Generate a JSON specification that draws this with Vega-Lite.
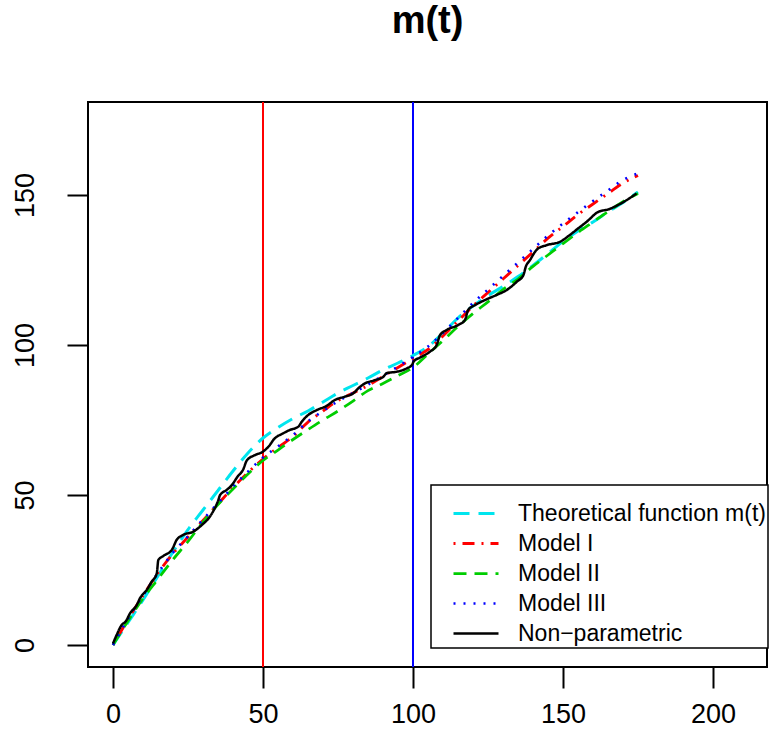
{
  "$schema": "https://vega.github.io/schema/vega-lite/v6.json",
  "width": 679,
  "height": 565,
  "autosize": {"type": "none"},
  "padding": {"left": 88, "top": 102, "right": 2, "bottom": 82},
  "background": "white",
  "config": {
    "font": "Liberation Sans",
    "view": {"stroke": "black", "strokeWidth": 2},
    "legend": {"strokeWidth": 1.5},
    "axis": {"domain": false, "grid": false, "tickColor": "black", "tickWidth": 2, "tickSize": 21, "labelColor": "black", "labelFontSize": 27, "labelFont": "Liberation Sans", "labelPadding": 34, "labelFlush": false, "labelOverlap": false, "title": null}
  },
  "title": {"text": "m(t)", "fontSize": 38, "fontWeight": "bold", "font": "Liberation Sans", "anchor": "middle", "offset": 30, "baseline": "alphabetic", "color": "black"},
  "datasets": {
    "curves": [
      {"s": "Theoretical function m(t)", "t": 0, "v": 0}, {"s": "Theoretical function m(t)", "t": 5, "v": 7.5}, {"s": "Theoretical function m(t)", "t": 10, "v": 15}, {"s": "Theoretical function m(t)", "t": 15, "v": 23}, {"s": "Theoretical function m(t)", "t": 20, "v": 31}, {"s": "Theoretical function m(t)", "t": 25, "v": 38.5}, {"s": "Theoretical function m(t)", "t": 30, "v": 45}, {"s": "Theoretical function m(t)", "t": 35, "v": 51.5}, {"s": "Theoretical function m(t)", "t": 40, "v": 58}, {"s": "Theoretical function m(t)", "t": 45, "v": 64}, {"s": "Theoretical function m(t)", "t": 50, "v": 69}, {"s": "Theoretical function m(t)", "t": 55, "v": 72.5}, {"s": "Theoretical function m(t)", "t": 60, "v": 75.5}, {"s": "Theoretical function m(t)", "t": 65, "v": 78}, {"s": "Theoretical function m(t)", "t": 70, "v": 81}, {"s": "Theoretical function m(t)", "t": 75, "v": 84}, {"s": "Theoretical function m(t)", "t": 80, "v": 86.5}, {"s": "Theoretical function m(t)", "t": 85, "v": 89}, {"s": "Theoretical function m(t)", "t": 90, "v": 91.7}, {"s": "Theoretical function m(t)", "t": 95, "v": 94}, {"s": "Theoretical function m(t)", "t": 100, "v": 96.5}, {"s": "Theoretical function m(t)", "t": 105, "v": 99.5}, {"s": "Theoretical function m(t)", "t": 110, "v": 104}, {"s": "Theoretical function m(t)", "t": 115, "v": 109}, {"s": "Theoretical function m(t)", "t": 120, "v": 113}, {"s": "Theoretical function m(t)", "t": 125, "v": 116.5}, {"s": "Theoretical function m(t)", "t": 130, "v": 119.5}, {"s": "Theoretical function m(t)", "t": 135, "v": 122.8}, {"s": "Theoretical function m(t)", "t": 140, "v": 126.5}, {"s": "Theoretical function m(t)", "t": 145, "v": 130.5}, {"s": "Theoretical function m(t)", "t": 150, "v": 134.5}, {"s": "Theoretical function m(t)", "t": 155, "v": 138}, {"s": "Theoretical function m(t)", "t": 160, "v": 141}, {"s": "Theoretical function m(t)", "t": 165, "v": 144.4}, {"s": "Theoretical function m(t)", "t": 170, "v": 147.5}, {"s": "Theoretical function m(t)", "t": 175, "v": 151},

      {"s": "Model I", "t": 0, "v": 0}, {"s": "Model I", "t": 5, "v": 8.5}, {"s": "Model I", "t": 10, "v": 16.5}, {"s": "Model I", "t": 15, "v": 24}, {"s": "Model I", "t": 20, "v": 30.5}, {"s": "Model I", "t": 25, "v": 36}, {"s": "Model I", "t": 30, "v": 41.5}, {"s": "Model I", "t": 35, "v": 47}, {"s": "Model I", "t": 40, "v": 52.5}, {"s": "Model I", "t": 45, "v": 57.5}, {"s": "Model I", "t": 50, "v": 62}, {"s": "Model I", "t": 55, "v": 65.8}, {"s": "Model I", "t": 60, "v": 69.5}, {"s": "Model I", "t": 65, "v": 74.3}, {"s": "Model I", "t": 70, "v": 78}, {"s": "Model I", "t": 75, "v": 81.5}, {"s": "Model I", "t": 80, "v": 84}, {"s": "Model I", "t": 85, "v": 86.5}, {"s": "Model I", "t": 90, "v": 89.5}, {"s": "Model I", "t": 95, "v": 92.5}, {"s": "Model I", "t": 100, "v": 95.5}, {"s": "Model I", "t": 105, "v": 98.5}, {"s": "Model I", "t": 110, "v": 103}, {"s": "Model I", "t": 115, "v": 108}, {"s": "Model I", "t": 120, "v": 113}, {"s": "Model I", "t": 125, "v": 117.5}, {"s": "Model I", "t": 130, "v": 122}, {"s": "Model I", "t": 135, "v": 126.5}, {"s": "Model I", "t": 140, "v": 131}, {"s": "Model I", "t": 145, "v": 135.6}, {"s": "Model I", "t": 150, "v": 139.5}, {"s": "Model I", "t": 155, "v": 143.5}, {"s": "Model I", "t": 160, "v": 147}, {"s": "Model I", "t": 165, "v": 150.5}, {"s": "Model I", "t": 170, "v": 154}, {"s": "Model I", "t": 175, "v": 156.5},

      {"s": "Model II", "t": 0, "v": 0}, {"s": "Model II", "t": 5, "v": 8}, {"s": "Model II", "t": 10, "v": 15.5}, {"s": "Model II", "t": 15, "v": 22}, {"s": "Model II", "t": 20, "v": 28.5}, {"s": "Model II", "t": 25, "v": 34.5}, {"s": "Model II", "t": 30, "v": 41}, {"s": "Model II", "t": 35, "v": 46.8}, {"s": "Model II", "t": 40, "v": 52}, {"s": "Model II", "t": 45, "v": 57}, {"s": "Model II", "t": 50, "v": 61.5}, {"s": "Model II", "t": 55, "v": 65}, {"s": "Model II", "t": 60, "v": 68.5}, {"s": "Model II", "t": 65, "v": 71.8}, {"s": "Model II", "t": 70, "v": 75}, {"s": "Model II", "t": 75, "v": 78}, {"s": "Model II", "t": 80, "v": 81.3}, {"s": "Model II", "t": 85, "v": 84.8}, {"s": "Model II", "t": 90, "v": 87.2}, {"s": "Model II", "t": 95, "v": 89.8}, {"s": "Model II", "t": 100, "v": 92.5}, {"s": "Model II", "t": 105, "v": 97}, {"s": "Model II", "t": 110, "v": 101.5}, {"s": "Model II", "t": 115, "v": 106.2}, {"s": "Model II", "t": 120, "v": 110.5}, {"s": "Model II", "t": 125, "v": 114.4}, {"s": "Model II", "t": 130, "v": 118.5}, {"s": "Model II", "t": 135, "v": 122}, {"s": "Model II", "t": 140, "v": 126.2}, {"s": "Model II", "t": 145, "v": 130}, {"s": "Model II", "t": 150, "v": 133.8}, {"s": "Model II", "t": 155, "v": 137.5}, {"s": "Model II", "t": 160, "v": 141}, {"s": "Model II", "t": 165, "v": 144.5}, {"s": "Model II", "t": 170, "v": 147.8}, {"s": "Model II", "t": 175, "v": 150.5},

      {"s": "Model III", "t": 0, "v": 0}, {"s": "Model III", "t": 5, "v": 8.7}, {"s": "Model III", "t": 10, "v": 16.5}, {"s": "Model III", "t": 15, "v": 24}, {"s": "Model III", "t": 20, "v": 30.8}, {"s": "Model III", "t": 25, "v": 36.2}, {"s": "Model III", "t": 30, "v": 41.8}, {"s": "Model III", "t": 35, "v": 47.3}, {"s": "Model III", "t": 40, "v": 52.8}, {"s": "Model III", "t": 45, "v": 57.8}, {"s": "Model III", "t": 50, "v": 62.5}, {"s": "Model III", "t": 55, "v": 66.2}, {"s": "Model III", "t": 60, "v": 70}, {"s": "Model III", "t": 65, "v": 74.5}, {"s": "Model III", "t": 70, "v": 78}, {"s": "Model III", "t": 75, "v": 81.3}, {"s": "Model III", "t": 80, "v": 84}, {"s": "Model III", "t": 85, "v": 86.8}, {"s": "Model III", "t": 90, "v": 89.8}, {"s": "Model III", "t": 95, "v": 92.8}, {"s": "Model III", "t": 100, "v": 96}, {"s": "Model III", "t": 105, "v": 99.5}, {"s": "Model III", "t": 110, "v": 104}, {"s": "Model III", "t": 115, "v": 109}, {"s": "Model III", "t": 120, "v": 114}, {"s": "Model III", "t": 125, "v": 118.5}, {"s": "Model III", "t": 130, "v": 123}, {"s": "Model III", "t": 135, "v": 127.5}, {"s": "Model III", "t": 140, "v": 132}, {"s": "Model III", "t": 145, "v": 136.5}, {"s": "Model III", "t": 150, "v": 140.5}, {"s": "Model III", "t": 155, "v": 144.3}, {"s": "Model III", "t": 160, "v": 148}, {"s": "Model III", "t": 165, "v": 151.5}, {"s": "Model III", "t": 170, "v": 155}, {"s": "Model III", "t": 175, "v": 157.2},

      {"s": "Non−parametric", "t": 0, "v": 0.5}, {"s": "Non−parametric", "t": 1.2, "v": 3.3}, {"s": "Non−parametric", "t": 2.9, "v": 6.7}, {"s": "Non−parametric", "t": 4.2, "v": 7.8}, {"s": "Non−parametric", "t": 5.7, "v": 10.6}, {"s": "Non−parametric", "t": 7.9, "v": 13.3}, {"s": "Non−parametric", "t": 9, "v": 15.6}, {"s": "Non−parametric", "t": 11.2, "v": 18.3}, {"s": "Non−parametric", "t": 12.9, "v": 21.1}, {"s": "Non−parametric", "t": 14.6, "v": 23.9}, {"s": "Non−parametric", "t": 15.1, "v": 28.3}, {"s": "Non−parametric", "t": 16.8, "v": 29.7}, {"s": "Non−parametric", "t": 19.6, "v": 31.7}, {"s": "Non−parametric", "t": 21.2, "v": 35}, {"s": "Non−parametric", "t": 23.4, "v": 36.7}, {"s": "Non−parametric", "t": 26.8, "v": 37.8}, {"s": "Non−parametric", "t": 29.6, "v": 40}, {"s": "Non−parametric", "t": 32.3, "v": 42.8}, {"s": "Non−parametric", "t": 35.1, "v": 48.3}, {"s": "Non−parametric", "t": 35.7, "v": 50}, {"s": "Non−parametric", "t": 37.9, "v": 51.7}, {"s": "Non−parametric", "t": 39.6, "v": 53.3}, {"s": "Non−parametric", "t": 41.5, "v": 56.1}, {"s": "Non−parametric", "t": 43.4, "v": 58.5}, {"s": "Non−parametric", "t": 44.6, "v": 61.5}, {"s": "Non−parametric", "t": 47.3, "v": 63.3}, {"s": "Non−parametric", "t": 49.9, "v": 64.4}, {"s": "Non−parametric", "t": 52.3, "v": 66.7}, {"s": "Non−parametric", "t": 53.4, "v": 68.3}, {"s": "Non−parametric", "t": 56.8, "v": 70.6}, {"s": "Non−parametric", "t": 59, "v": 71.7}, {"s": "Non−parametric", "t": 61.8, "v": 72.8}, {"s": "Non−parametric", "t": 62.9, "v": 74.4}, {"s": "Non−parametric", "t": 65.1, "v": 76.7}, {"s": "Non−parametric", "t": 67.9, "v": 78.3}, {"s": "Non−parametric", "t": 71.2, "v": 79.7}, {"s": "Non−parametric", "t": 74, "v": 81.7}, {"s": "Non−parametric", "t": 77.3, "v": 82.8}, {"s": "Non−parametric", "t": 80.1, "v": 83.9}, {"s": "Non−parametric", "t": 81.8, "v": 85.6}, {"s": "Non−parametric", "t": 84, "v": 87.2}, {"s": "Non−parametric", "t": 87.3, "v": 88.3}, {"s": "Non−parametric", "t": 90.1, "v": 89.4}, {"s": "Non−parametric", "t": 91.2, "v": 90.6}, {"s": "Non−parametric", "t": 94.6, "v": 91.1}, {"s": "Non−parametric", "t": 97.9, "v": 92.2}, {"s": "Non−parametric", "t": 99.6, "v": 93.3}, {"s": "Non−parametric", "t": 100.3, "v": 94.6}, {"s": "Non−parametric", "t": 102.3, "v": 95.8}, {"s": "Non−parametric", "t": 105.7, "v": 97.8}, {"s": "Non−parametric", "t": 107.9, "v": 100}, {"s": "Non−parametric", "t": 109, "v": 103.3}, {"s": "Non−parametric", "t": 111.2, "v": 105}, {"s": "Non−parametric", "t": 115.1, "v": 106.7}, {"s": "Non−parametric", "t": 117.3, "v": 108.3}, {"s": "Non−parametric", "t": 118.4, "v": 111.7}, {"s": "Non−parametric", "t": 120.7, "v": 113.3}, {"s": "Non−parametric", "t": 124, "v": 115}, {"s": "Non−parametric", "t": 127.9, "v": 116.7}, {"s": "Non−parametric", "t": 131.2, "v": 118.3}, {"s": "Non−parametric", "t": 134.6, "v": 121.1}, {"s": "Non−parametric", "t": 136.8, "v": 123.3}, {"s": "Non−parametric", "t": 137.6, "v": 126.1}, {"s": "Non−parametric", "t": 139, "v": 128.3}, {"s": "Non−parametric", "t": 140.5, "v": 130.8}, {"s": "Non−parametric", "t": 141.5, "v": 132}, {"s": "Non−parametric", "t": 144.6, "v": 133.3}, {"s": "Non−parametric", "t": 149, "v": 134.4}, {"s": "Non−parametric", "t": 152.3, "v": 136.7}, {"s": "Non−parametric", "t": 155.1, "v": 138.9}, {"s": "Non−parametric", "t": 157.9, "v": 141.1}, {"s": "Non−parametric", "t": 161.8, "v": 144.4}, {"s": "Non−parametric", "t": 165.1, "v": 145.2}, {"s": "Non−parametric", "t": 168.4, "v": 146.7}, {"s": "Non−parametric", "t": 171.2, "v": 148.3}, {"s": "Non−parametric", "t": 174.5, "v": 150.5}
    ]
  },
  "layer": [
    {
      "data": {"values": [{"t": 50}]},
      "mark": {"type": "rule", "color": "#FF0000", "strokeWidth": 2},
      "encoding": {"x": {"field": "t", "type": "quantitative", "scale": {"domain": [-8.333, 218], "nice": false, "zero": false}, "axis": {"values": [0, 50, 100, 150, 200], "labelBaseline": "alphabetic"}}}
    },
    {
      "data": {"values": [{"t": 100}]},
      "mark": {"type": "rule", "color": "#0000FF", "strokeWidth": 2},
      "encoding": {"x": {"field": "t", "type": "quantitative"}}
    },
    {
      "data": {"name": "curves"},
      "mark": {"type": "line", "interpolate": "monotone", "strokeCap": "butt"},
      "encoding": {
        "x": {"field": "t", "type": "quantitative"},
        "y": {"field": "v", "type": "quantitative", "scale": {"domain": [-7.33, 181], "nice": false, "zero": false}, "axis": {"values": [0, 50, 100, 150], "labelAngle": -90, "labelAlign": "center", "labelBaseline": "alphabetic"}},
        "color": {
          "field": "s", "type": "nominal",
          "scale": {"domain": ["Theoretical function m(t)", "Model I", "Model II", "Model III", "Non−parametric"], "range": ["#00E5EE", "#FF0000", "#00CD00", "#0000FF", "#000000"]},
          "legend": {"orient": "none", "legendX": 343, "legendY": 383, "title": " ", "titleFontSize": 9, "titlePadding": 0, "symbolType": "M0.1875,0H3", "symbolSize": 1024, "symbolStrokeWidth": 2.5, "labelFontSize": 23, "labelFont": "Liberation Sans", "labelColor": "black", "labelOffset": 50, "padding": 2, "strokeColor": "black", "fillColor": "white", "rowPadding": 0, "labelLimit": 0}
        },
        "strokeDash": {
          "field": "s", "type": "nominal",
          "scale": {"domain": ["Theoretical function m(t)", "Model I", "Model II", "Model III", "Non−parametric"], "range": [[16, 9], [2, 7, 12, 7], [13, 8], [2, 8], [1, 0]]},
          "legend": {"orient": "none", "legendX": 343, "legendY": 383, "title": " ", "titleFontSize": 9, "titlePadding": 0, "symbolType": "M0.1875,0H3", "symbolSize": 1024, "symbolStrokeWidth": 2.5, "labelFontSize": 23, "labelFont": "Liberation Sans", "labelColor": "black", "labelOffset": 50, "padding": 2, "strokeColor": "black", "fillColor": "white", "rowPadding": 0, "labelLimit": 0}
        },
        "strokeWidth": {
          "field": "s", "type": "nominal",
          "scale": {"domain": ["Theoretical function m(t)", "Model I", "Model II", "Model III", "Non−parametric"], "range": [3, 2.5, 2.5, 2.5, 3]},
          "legend": null
        }
      }
    }
  ]
}
